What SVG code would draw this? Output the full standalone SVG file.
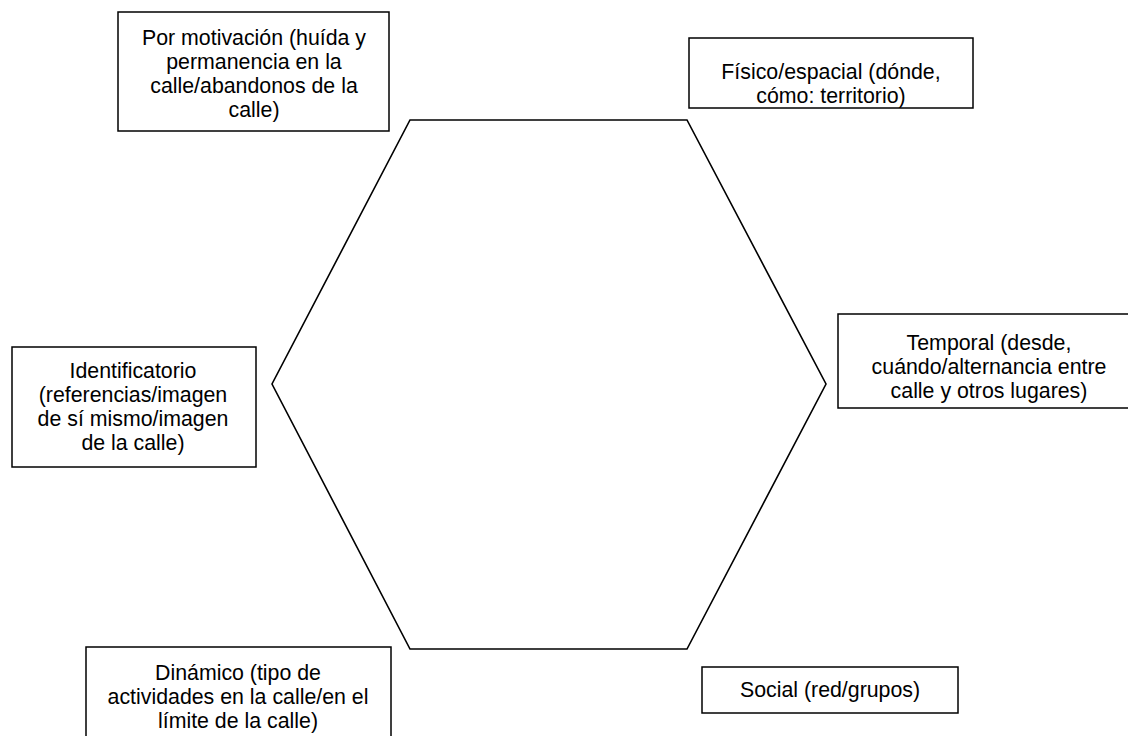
<svg xmlns="http://www.w3.org/2000/svg" width="1128" height="736" viewBox="0 0 1128 736">
<style>
.box{fill:#fff;stroke:#000;stroke-width:1.5}
.hex{fill:none;stroke:#000;stroke-width:1.6;stroke-linejoin:miter}
text{font-family:"Liberation Sans",Arial,sans-serif;font-size:21.33px;fill:#000;text-anchor:middle}
</style>
<rect width="1128" height="736" fill="#fff"/>
<g id="hexagon">
<polygon class="hex" points="410,120 687,120 826,384 687,649 410,649 272,384"/>
</g>
<g id="connectors"/>
<g id="motivacion">
<rect class="box" x="118" y="12" width="271" height="119"/>
<text x="254" y="45">Por motivación (huída y</text>
<text x="254" y="69">permanencia en la</text>
<text x="254" y="93">calle/abandonos de la</text>
<text x="254" y="117">calle)</text>
</g>
<g id="fisico">
<rect class="box" x="689" y="38" width="284" height="70"/>
<text x="831" y="79">Físico/espacial (dónde,</text>
<text x="831" y="103">cómo: territorio)</text>
</g>
<g id="temporal">
<rect class="box" x="838" y="314" width="302" height="94"/>
<text x="989" y="350">Temporal (desde,</text>
<text x="989" y="374">cuándo/alternancia entre</text>
<text x="989" y="398">calle y otros lugares)</text>
</g>
<g id="identificatorio">
<rect class="box" x="12" y="347" width="244" height="120"/>
<text x="133" y="378">Identificatorio</text>
<text x="133" y="402">(referencias/imagen</text>
<text x="133" y="426">de sí mismo/imagen</text>
<text x="133" y="450">de la calle)</text>
</g>
<g id="dinamico">
<rect class="box" x="86" y="647" width="305" height="100"/>
<text x="238" y="680">Dinámico (tipo de</text>
<text x="238" y="704">actividades en la calle/en el</text>
<text x="238" y="728">límite de la calle)</text>
</g>
<g id="social">
<rect class="box" x="702" y="667" width="256" height="46"/>
<text x="830" y="697">Social (red/grupos)</text>
</g>
</svg>
